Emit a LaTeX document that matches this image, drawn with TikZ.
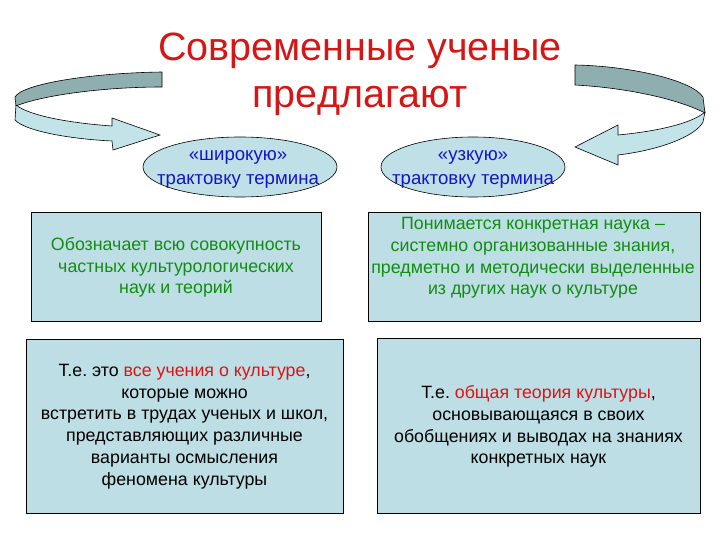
\documentclass[tikz,border=0pt]{standalone}
\usepackage{fontspec}
\setmainfont{Liberation Sans}
\usetikzlibrary{shapes.geometric}
\frenchspacing
\definecolor{boxfill}{RGB}{188,222,228}
\definecolor{ellfill}{RGB}{190,224,230}
\definecolor{titlered}{RGB}{212,22,22}
\definecolor{accred}{RGB}{220,20,20}
\definecolor{txtgreen}{RGB}{20,140,20}
\definecolor{txtblue}{RGB}{20,20,200}
\definecolor{banddark}{RGB}{143,174,176}
\definecolor{bandlight}{RGB}{194,228,232}
\tikzset{
  card/.style={draw=black, line width=0.8pt, fill=boxfill, rectangle, inner sep=0pt},
  oval/.style={draw=black, line width=0.6pt, fill=ellfill, ellipse, inner sep=0pt},
  ovaltext/.style={align=center, text=txtblue, font=\fontsize{18.6}{24.5}\selectfont},
  greentext/.style={align=center, text=txtgreen, font=\fontsize{17.8}{21.8}\selectfont},
  blacktext/.style={align=center, text=black, font=\fontsize{17.8}{21.8}\selectfont},
  titletext/.style={align=center, text=titlered, font=\fontsize{39.5}{47}\selectfont},
  bandback/.style={draw=black, line width=0.6pt, fill=banddark},
  bandfront/.style={draw=black, line width=0.6pt, fill=bandlight}
}
\begin{document}
\begin{tikzpicture}[x=1pt,y=-1pt]
\useasboundingbox (0,0) rectangle (720,540);
% title
\node[titletext] (title) at (360,74) {Современные ученые\\предлагают};
% left curved arrow
\draw[bandback] (162,72) .. controls (90,73) and (22,84) .. (15,97) -- (16,106) .. controls (40,96) and (100,87) .. (162,87) -- cycle;
\draw[bandfront] (16,105) .. controls (30,116) and (70,123) .. (112,126) -- (112,118) -- (160,135) -- (113,150) -- (112,141) .. controls (70,139) and (25,131) .. (15,120) -- cycle;
% right curved arrow
\draw[bandback] (575,65) .. controls (630,66) and (692,80) .. (703,97) -- (705,113) .. controls (680,100) and (630,88) .. (575,85) -- cycle;
\draw[bandfront] (705,112) .. controls (690,125) and (650,132) .. (618,135) -- (618,125) -- (575,147) -- (618,165) -- (618,155) .. controls (660,150) and (696,136) .. (703,122) -- cycle;
% ellipses
\node[oval, minimum width=194pt, minimum height=60pt] (wide) at (240,167) {};
\node[ovaltext] (widetext) at (238,169.5) {«широкую»\\трактовку термина};
\node[oval, minimum width=184pt, minimum height=60pt] (narrow) at (473,167) {};
\node[ovaltext] (narrowtext) at (473,169.5) {«узкую»\\трактовку термина};
% boxes row 1
\node[card, minimum width=290pt, minimum height=109pt] (lb1) at (176,267) {};
\node[greentext] (lb1t) at (176,267.5) {Обозначает всю совокупность\\частных культурологических\\наук и теорий};
\node[card, minimum width=332pt, minimum height=109pt] (rb1) at (534,267) {};
\node[greentext] (rb1t) at (533,258) {Понимается конкретная наука –\\системно организованные знания,\\предметно и методически выделенные\\из других наук о культуре};
% boxes row 2
\node[card, minimum width=317pt, minimum height=174pt] (lb2) at (184.5,426) {};
\node[blacktext] (lb2t) at (184.5,426.5) {Т.е. это \textcolor{accred}{все учения о культуре},\\которые можно\\встретить в трудах ученых и школ,\\представляющих различные\\варианты осмысления\\феномена культуры};
\node[card, minimum width=323pt, minimum height=175pt] (rb2) at (538.5,425.5) {};
\node[blacktext] (rb2t) at (538.5,426.5) {Т.е. \textcolor{accred}{общая теория культуры},\\основывающаяся в своих\\обобщениях и выводах на знаниях\\конкретных наук};
\end{tikzpicture}
\end{document}
